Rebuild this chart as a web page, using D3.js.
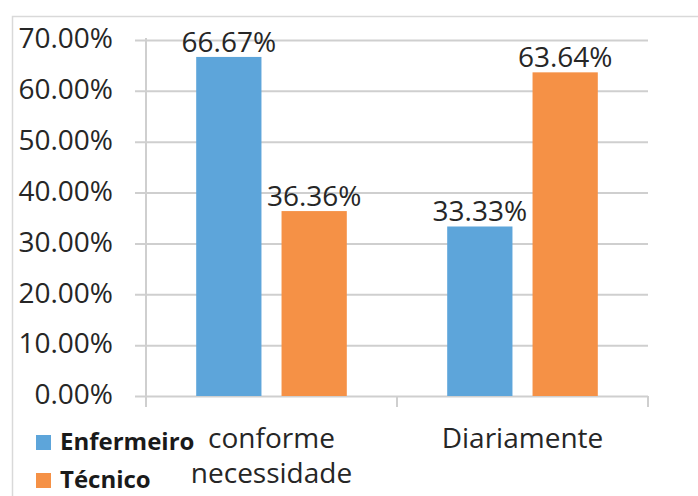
<!DOCTYPE html>
<html>
<head>
<meta charset="utf-8">
<script src="https://cdn.jsdelivr.net/npm/d3@7"></script>
<style>
  body { margin: 0; background: #fff; }
  svg { font-family: "Open Sans", sans-serif; }
</style>
</head>
<body>
<svg id="chart" width="698" height="496"></svg>
<script>
// chart data
const categories = ['conforme necessidade', 'Diariamente'];
const series = ['Enfermeiro', 'Técnico'];
const enfermeiro = [0.6667, 0.3333];
const tecnico = [0.3636, 0.6364];
const yTicks = [0, 0.1, 0.2, 0.3, 0.4, 0.5, 0.6, 0.7];

const colors = { 'Enfermeiro': '#5DA5DA', 'Técnico': '#F59146' };
const values = { 'Enfermeiro': enfermeiro, 'Técnico': tecnico };

const rows = categories.map((c, i) => ({
    category: c,
    bars: series.map(s => ({ key: s, value: values[s][i] }))
}));

const svg = d3.select('#chart');
const plot = { left: 146, right: 648, top: 40, bottom: 396 };
const textColor = '#262626';
const gridColor = '#cfcfcf';

// outer chart border
svg.append('rect')
    .attr('x', 12.5).attr('y', 16.5)
    .attr('width', 720).attr('height', 520)
    .attr('fill', 'none')
    .attr('stroke', '#d9d9d9')
    .attr('stroke-width', 1.5);

let x0 = d3.scaleBand()
    .domain(categories)
    .range([plot.left, plot.right])
    .padding(0);

let x1 = d3.scaleBand()
    .domain(series)
    .range([0, x0.bandwidth()])
    .paddingInner(20 / 85)
    .paddingOuter(50 / 85);

let y = d3.scaleLinear()
    .domain([0, 0.7])
    .range([plot.bottom, plot.top]);

// gridlines + y axis labels
let yAxis = d3.axisLeft(y)
    .tickValues(yTicks)
    .tickSize(-(plot.right - plot.left))
    .tickPadding(33)
    .tickFormat(d3.format('.2%'));

let yG = svg.append('g')
    .attr('transform', `translate(${plot.left},0)`)
    .call(yAxis);

yG.select('.domain').remove();
yG.selectAll('.tick line')
    .attr('x1', -11)
    .attr('stroke', gridColor)
    .attr('stroke-width', 2);
yG.selectAll('.tick text')
    .attr('fill', textColor)
    .attr('font-size', 28)
    .attr('dy', '0.28em')
    .attr('font-family', '"Open Sans", sans-serif');

// vertical axis line
svg.append('line')
    .attr('x1', plot.left).attr('x2', plot.left)
    .attr('y1', plot.top - 2).attr('y2', plot.bottom + 11)
    .attr('stroke', gridColor)
    .attr('stroke-width', 2);

// category tick marks
let catEdges = categories.map(c => x0(c)).concat([plot.right]);
svg.selectAll('.cat-tick')
    .data(catEdges)
    .join('line')
    .attr('class', 'cat-tick')
    .attr('x1', d => d).attr('x2', d => d)
    .attr('y1', plot.bottom).attr('y2', plot.bottom + 11)
    .attr('stroke', gridColor)
    .attr('stroke-width', 2);

// bars
let groups = svg.selectAll('.group')
    .data(rows)
    .join('g')
    .attr('class', 'group')
    .attr('transform', d => `translate(${x0(d.category)},0)`);

groups.selectAll('rect')
    .data(d => d.bars)
    .join('rect')
    .attr('x', d => x1(d.key))
    .attr('y', d => y(d.value))
    .attr('width', x1.bandwidth())
    .attr('height', d => y(0) - y(d.value))
    .attr('fill', d => colors[d.key]);

groups.selectAll('.val')
    .data(d => d.bars)
    .join('text')
    .attr('class', 'val')
    .attr('x', d => x1(d.key) + x1.bandwidth() / 2)
    .attr('y', d => y(d.value) - 5)
    .attr('text-anchor', 'middle')
    .attr('font-size', 28)
    .attr('fill', textColor)
    .text(d => d3.format('.2%')(d.value));

// category labels, wrapped to band width
let catLabels = svg.selectAll('.cat')
    .data(categories)
    .join('text')
    .attr('class', 'cat')
    .attr('x', d => x0(d) + x0.bandwidth() / 2)
    .attr('y', plot.bottom + 52)
    .attr('text-anchor', 'middle')
    .attr('font-size', 28)
    .attr('fill', textColor);

catLabels.each(function(d) {
    let t = d3.select(this);
    let words = d.split(' ');
    let line = [];
    let lineNo = 0;
    let cx = x0(d) + x0.bandwidth() / 2;
    let tspan = t.append('tspan').attr('x', cx).attr('dy', 0);
    for (let w of words) {
        line.push(w);
        tspan.text(line.join(' '));
        if (tspan.node().getComputedTextLength() > x0.bandwidth() - 20 && line.length > 1) {
            line.pop();
            tspan.text(line.join(' '));
            line = [w];
            lineNo++;
            tspan = t.append('tspan').attr('x', cx).attr('dy', 35).text(w);
        }
    }
});

// legend
let legend = svg.selectAll('.legend')
    .data(series)
    .join('g')
    .attr('class', 'legend')
    .attr('transform', (d, i) => `translate(36,${435 + i * 38})`);

legend.append('rect')
    .attr('width', 15).attr('height', 15)
    .attr('fill', d => colors[d]);

legend.append('text')
    .attr('x', 24)
    .attr('y', 15)
    .attr('font-size', 24)
    .attr('font-weight', 'bold')
    .attr('fill', '#1a1a1a')
    .text(d => d);
</script>
</body>
</html>
